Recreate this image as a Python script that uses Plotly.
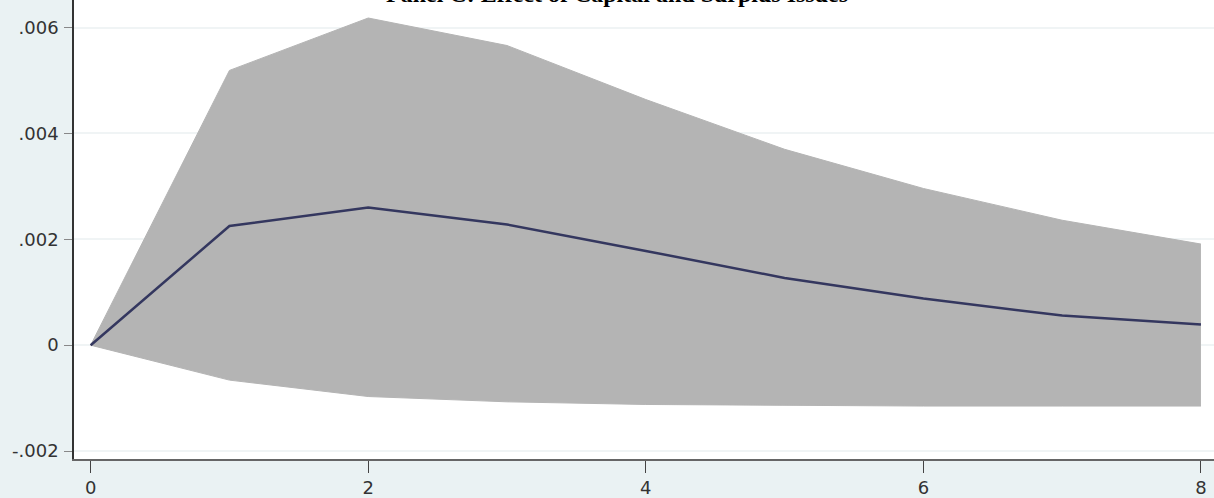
import plotly.graph_objects as go

# Impulse-response horizon and estimates
steps = [0, 1, 2, 3, 4, 5, 6, 7, 8]
irf = [0.0, 0.00225, 0.00260, 0.00228, 0.00178, 0.00127, 0.00088, 0.00056, 0.00039]
ci_upper = [0.0, 0.00519, 0.00618, 0.00566, 0.00464, 0.00370, 0.00296, 0.00236, 0.00191]
ci_lower = [0.0, -0.00066, -0.00097, -0.00107, -0.00112, -0.00114, -0.00115, -0.00115, -0.00115]

y_tickvals = [-0.002, 0, 0.002, 0.004, 0.006]
y_ticktext = ["-.002", "0", ".002", ".004", ".006"]
x_tickvals = [0, 2, 4, 6, 8]
x_ticktext = ["0", "2", "4", "6", "8"]

title_text = "Panel C: Effect of Capital and Surplus Issues"

BAND = "#b4b4b4"
LINE = "#34375f"
BG = "#eaf2f3"

fig = go.Figure()
fig.add_trace(go.Scatter(x=steps, y=ci_lower, mode="lines",
                         line=dict(color=BAND, width=1), showlegend=False,
                         hoverinfo="skip"))
fig.add_trace(go.Scatter(x=steps, y=ci_upper, mode="lines", fill="tonexty",
                         fillcolor=BAND, line=dict(color=BAND, width=1),
                         showlegend=False, hoverinfo="skip"))
fig.add_trace(go.Scatter(x=steps, y=irf, mode="lines",
                         line=dict(color=LINE, width=2.5), showlegend=False))

# Title sits at the very top edge of the figure
fig.add_annotation(text=f"<b>{title_text}</b>", xref="paper", yref="paper",
                   x=0.476, y=1, xanchor="center", yanchor="bottom", yshift=-9,
                   showarrow=False,
                   font=dict(family="Liberation Serif", size=24, color="#000000"))

fig.update_layout(
    width=1214, height=498,
    margin=dict(l=74, r=0, t=0, b=35),
    paper_bgcolor=BG, plot_bgcolor="white",
    font=dict(family="DejaVu Sans", size=18, color="#333333"),
)
fig.update_xaxes(range=[-0.12, 8.094], tickvals=x_tickvals, ticktext=x_ticktext,
                 ticks="outside", ticklen=12, tickcolor="#444444",
                 showgrid=False, zeroline=False,
                 showline=True, linecolor="#666666", linewidth=1.5,
                 tickfont=dict(size=18, color="#333333"))
fig.update_yaxes(range=[-0.00215, 0.00652], tickvals=y_tickvals, ticktext=y_ticktext,
                 ticks="outside", ticklen=8, tickcolor="#888888",
                 showgrid=True, gridcolor="#f0f4f5", gridwidth=1.5, zeroline=False,
                 showline=True, linecolor="#333333", linewidth=1.5,
                 ticklabelstandoff=2,
                 tickfont=dict(size=18, color="#333333"))

fig.write_html("out.html")
